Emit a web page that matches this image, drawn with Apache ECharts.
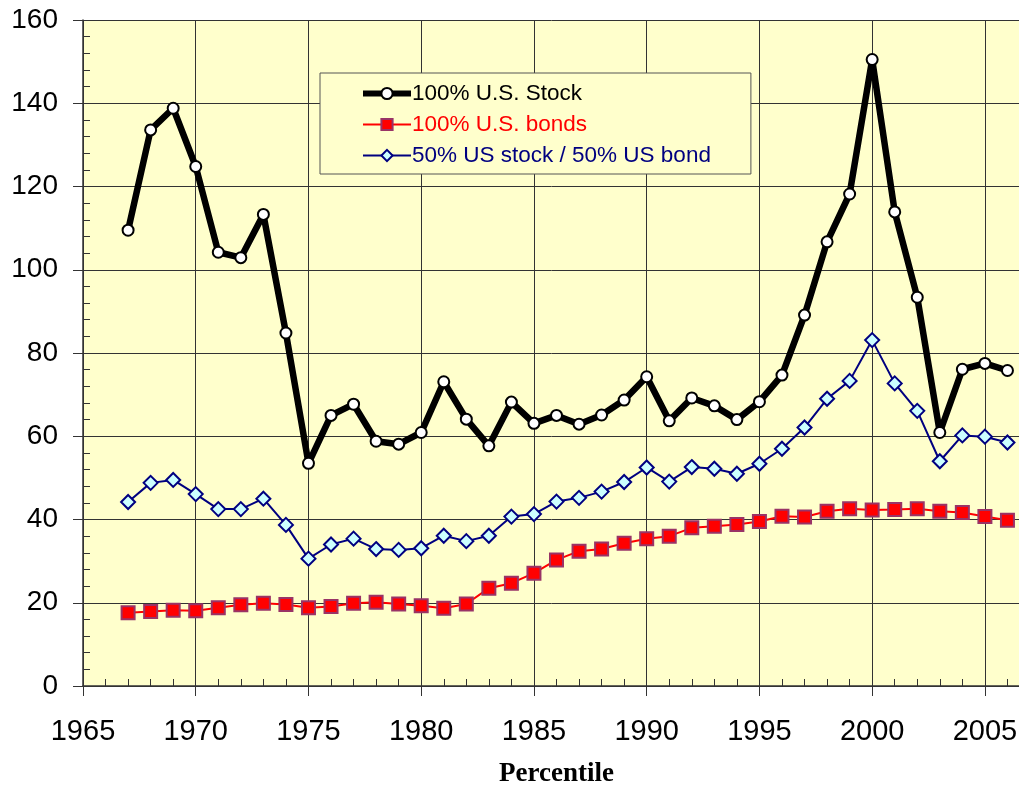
<!DOCTYPE html>
<html>
<head>
<meta charset="utf-8">
<script src="https://cdn.jsdelivr.net/npm/echarts@6/dist/echarts.min.js"></script>
<style>
  html, body { margin: 0; padding: 0; background: #fff; }
  #chart { width: 1019px; height: 789px; }
</style>
</head>
<body>
<div id="chart"></div>
<script>
// years on the x axis
var years = [1967, 1968, 1969, 1970, 1971, 1972, 1973, 1974, 1975, 1976,
             1977, 1978, 1979, 1980, 1981, 1982, 1983, 1984, 1985, 1986,
             1987, 1988, 1989, 1990, 1991, 1992, 1993, 1994, 1995, 1996,
             1997, 1998, 1999, 2000, 2001, 2002, 2003, 2004, 2005, 2006];

// 100% U.S. Stock
var stock = [109.5, 133.6, 138.8, 124.8, 104.2, 102.9, 113.3, 84.8, 53.5, 65.0,
             67.7, 58.8, 58.1, 60.9, 73.1, 64.1, 57.7, 68.2, 63.1, 65.0,
             62.9, 65.1, 68.7, 74.3, 63.7, 69.2, 67.3, 64.0, 68.3, 74.7,
             89.1, 106.7, 118.2, 150.5, 113.9, 93.4, 60.9, 76.1, 77.5, 75.8];

// 100% U.S. bonds
var bonds = [17.6, 17.9, 18.2, 18.1, 18.8, 19.5, 19.9, 19.6, 18.8, 19.1,
             19.9, 20.1, 19.7, 19.3, 18.7, 19.7, 23.5, 24.7, 27.1, 30.3,
             32.4, 32.9, 34.3, 35.4, 36.0, 38.0, 38.4, 38.8, 39.5, 40.8,
             40.6, 42.0, 42.6, 42.3, 42.4, 42.6, 42.0, 41.7, 40.7, 39.8];

// 50% US stock / 50% US bond
var mixed = [44.2, 48.8, 49.5, 46.1, 42.5, 42.5, 45.0, 38.7, 30.6, 34.0,
             35.4, 32.9, 32.7, 33.1, 36.1, 34.8, 36.1, 40.7, 41.3, 44.3,
             45.2, 46.7, 49.0, 52.5, 49.1, 52.6, 52.2, 51.0, 53.4, 57.0,
             62.1, 69.0, 73.3, 83.1, 72.7, 66.1, 54.0, 60.2, 59.9, 58.5];

var seriesNames = ["100% U.S. Stock", "100% U.S. bonds", "50% US stock / 50% US bond"];

function pairs(vals) {
    var out = [];
    for (var i = 0; i < years.length; i++) {
        out.push([years[i], vals[i]]);
    }
    return out;
}

var myChart = echarts.init(document.getElementById("chart"));
var font = "'Liberation Sans', Arial, sans-serif";

var option = {
    animation: false,
    backgroundColor: "#ffffff",
    grid: {
        left: 83, top: 20, right: -11, bottom: 103,
        outerBoundsMode: "none", containLabel: false,
        show: true, backgroundColor: "#FFFFCC", borderWidth: 0
    },
    legend: {
        orient: "vertical",
        left: 320, top: 73,
        padding: [9, 40, 7, 40],
        itemWidth: 48, itemHeight: 14, itemGap: 8,
        backgroundColor: "#FFFFCC",
        borderColor: "#555555", borderWidth: 1,
        selectedMode: false,
        textStyle: { fontFamily: font, fontSize: 22.5, padding: [0, 0, 0, -4] },
        data: [
            { name: seriesNames[0], textStyle: { color: "#000000" }, lineStyle: { width: 6, color: "#000" } },
            { name: seriesNames[1], textStyle: { color: "#FF0000" }, lineStyle: { width: 2, color: "#FF0000" } },
            { name: seriesNames[2], textStyle: { color: "#000080" }, lineStyle: { width: 2, color: "#000080" } }
        ]
    },
    xAxis: [{
        type: "value", min: 1965, max: 2007, interval: 5,
        name: "Percentile", nameLocation: "middle", nameGap: 75,
        nameTextStyle: { fontFamily: "'Liberation Serif', 'Times New Roman', serif", fontWeight: "bold", fontSize: 27, color: "#000" },
        axisLine: { lineStyle: { color: "#333", width: 1.5 } },
        axisTick: { show: true, inside: false, length: 10, lineStyle: { color: "#333" } },
        axisLabel: {
            fontFamily: font, fontSize: 29, color: "#000", margin: 31, showMaxLabel: false,
            formatter: function (v) { return String(v); }
        },
        splitLine: { show: true, lineStyle: { color: "#333", width: 1 } }
    }, {
        // minor ticks, drawn inward
        type: "value", min: 1965, max: 2007, interval: 1, position: "bottom",
        axisLine: { show: false },
        axisTick: { show: true, inside: true, length: 7, lineStyle: { color: "#333" } },
        axisLabel: { show: false },
        splitLine: { show: false }
    }],
    yAxis: [{
        type: "value", min: 0, max: 160, interval: 20,
        axisLine: { show: true, lineStyle: { color: "#333", width: 1.5 } },
        axisTick: { show: true, inside: false, length: 10, lineStyle: { color: "#333" } },
        axisLabel: { fontFamily: font, fontSize: 28, color: "#000", margin: 25 },
        splitLine: { show: true, lineStyle: { color: "#333", width: 1 } }
    }, {
        type: "value", min: 0, max: 160, interval: 4, position: "left",
        axisLine: { show: false },
        axisTick: { show: true, inside: true, length: 7, lineStyle: { color: "#333" } },
        axisLabel: { show: false },
        splitLine: { show: false }
    }],
    series: [{
        name: seriesNames[1], type: "line", xAxisIndex: 0, yAxisIndex: 0,
        data: pairs(bonds), z: 3,
        symbol: "rect", symbolSize: 13, showSymbol: true,
        lineStyle: { color: "#FF0000", width: 2 },
        itemStyle: { color: "#FF0000", borderColor: "#993366", borderWidth: 2 }
    }, {
        name: seriesNames[2], type: "line", xAxisIndex: 0, yAxisIndex: 0,
        data: pairs(mixed), z: 4,
        symbol: "diamond", symbolSize: 14, showSymbol: true,
        lineStyle: { color: "#000080", width: 2 },
        itemStyle: { color: "#CCFFFF", borderColor: "#000080", borderWidth: 2 }
    }, {
        name: seriesNames[0], type: "line", xAxisIndex: 0, yAxisIndex: 0,
        data: pairs(stock), z: 5,
        symbol: "circle", symbolSize: 11, showSymbol: true,
        lineStyle: { color: "#000000", width: 6.5 },
        itemStyle: { color: "#FFFFFF", borderColor: "#000000", borderWidth: 2 }
    }]
};

myChart.setOption(option);
</script>
</body>
</html>
